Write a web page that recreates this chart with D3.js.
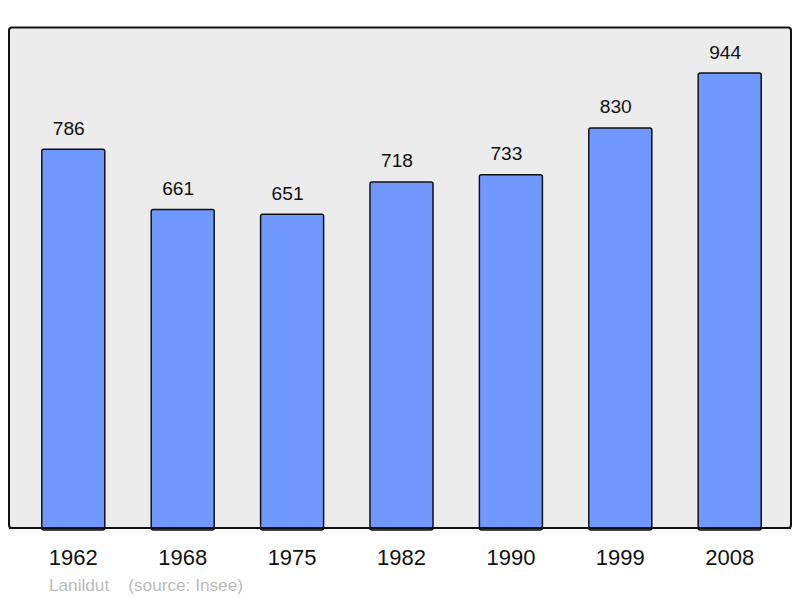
<!DOCTYPE html>
<html><head><meta charset="utf-8">
<script src="https://cdn.jsdelivr.net/npm/d3@7"></script>
<style>body{margin:0;background:#fff;}svg{display:block;}</style>
</head><body>
<svg id="c" width="800" height="598"></svg>
<script>
const years = ["1962","1968","1975","1982","1990","1999","2008"];
const population = [786, 661, 651, 718, 733, 830, 944];
const sourceText = "Lanildut    (source: Insee)";

const svg = d3.select("#c");
const font = "'Liberation Sans', Arial, sans-serif";
const plot = {x0: 9, y0: 27.5, x1: 791, y1: 528};

svg.append("rect")
  .attr("x", plot.x0).attr("y", plot.y0)
  .attr("width", plot.x1 - plot.x0).attr("height", plot.y1 - plot.y0)
  .attr("rx", 3).attr("ry", 3)
  .attr("fill", "#ececec").attr("stroke", "#111").attr("stroke-width", 2);

const x = d3.scaleBand().domain(years).range([18.6, 784.4])
  .paddingInner(0.424).paddingOuter(0.212);
const y = d3.scaleLinear().domain([0, d3.max(population) * 1.1]).range([plot.y1, plot.y0]);

const data = years.map((yr, i) => ({yr, v: population[i]}));

svg.selectAll("rect.bar").data(data).enter().append("rect")
  .attr("class", "bar")
  .attr("x", d => x(d.yr)).attr("y", d => y(d.v))
  .attr("width", x.bandwidth()).attr("height", d => y(0) - y(d.v) + 2)
  .attr("rx", 2).attr("ry", 2)
  .attr("fill", "#7098ff").attr("stroke", "#111").attr("stroke-width", 1.5);

svg.append("line").attr("x1", plot.x0).attr("x2", plot.x1)
  .attr("y1", plot.y1).attr("y2", plot.y1)
  .attr("stroke", "#111").attr("stroke-width", 2);

svg.selectAll("text.val").data(data).enter().append("text")
  .attr("class", "val")
  .attr("x", d => x(d.yr) + x.bandwidth() / 2 - 4.5)
  .attr("y", d => y(d.v) - 14.5)
  .attr("text-anchor", "middle")
  .attr("font-family", font).attr("font-size", 19.2).attr("fill", "#111")
  .text(d => d.v);

const xAxis = d3.axisBottom(x).tickSize(0).tickPadding(0);
const g = svg.append("g").attr("transform", `translate(0,${plot.y1})`).call(xAxis);
g.select(".domain").remove();
g.selectAll("text")
  .attr("dy", null).attr("y", 37)
  .attr("font-family", font).attr("font-size", 22).attr("fill", "#111");

svg.append("text").attr("x", 49).attr("y", 590.5)
  .attr("font-family", font).attr("font-size", 17.2).attr("fill", "#bbbbbb")
  .attr("xml:space", "preserve").style("white-space", "pre")
  .text(sourceText);
</script>
</body></html>
